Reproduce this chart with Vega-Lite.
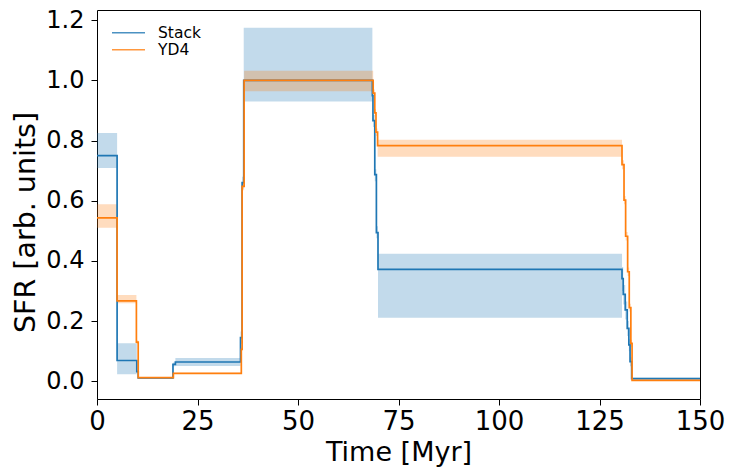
{
  "$schema": "https://vega.github.io/schema/vega-lite/v6.json",
  "autosize": "none",
  "width": 603,
  "height": 389,
  "padding": {"left": 97, "top": 10, "right": 30, "bottom": 68},
  "config": {
    "font": "DejaVu Sans",
    "view": {"stroke": "#000000", "strokeWidth": 1},
    "axis": {
      "grid": false,
      "domain": false,
      "tickColor": "#000000",
      "tickSize": 6,
      "tickWidth": 1,
      "labelColor": "#000000",
      "titleColor": "#000000",
      "titleFontWeight": "normal",
      "labelFont": "DejaVu Sans",
      "titleFont": "DejaVu Sans"
    }
  },
  "data": {
    "values": [
      {"series": "Stack", "t": 0, "v": 0.750, "lo": 0.709, "hi": 0.825},
      {"series": "Stack", "t": 5.0, "v": 0.069, "lo": 0.023, "hi": 0.126},
      {"series": "Stack", "t": 9.9, "v": 0.032, "lo": 0.028, "hi": 0.036},
      {"series": "Stack", "t": 10.25, "v": 0.011, "lo": 0.008, "hi": 0.014},
      {"series": "Stack", "t": 18.9, "v": 0.056, "lo": 0.050, "hi": 0.062},
      {"series": "Stack", "t": 19.5, "v": 0.064, "lo": 0.051, "hi": 0.077},
      {"series": "Stack", "t": 35.7, "v": 0.145, "lo": 0.125, "hi": 0.165},
      {"series": "Stack", "t": 36.1, "v": 0.660, "lo": 0.640, "hi": 0.680},
      {"series": "Stack", "t": 36.5, "v": 1.000, "lo": 0.930, "hi": 1.175},
      {"series": "Stack", "t": 68.5, "v": 0.949, "lo": 0.930, "hi": 0.970},
      {"series": "Stack", "t": 68.65, "v": 0.866, "lo": 0.845, "hi": 0.885},
      {"series": "Stack", "t": 69.1, "v": 0.687, "lo": 0.665, "hi": 0.705},
      {"series": "Stack", "t": 69.5, "v": 0.494, "lo": 0.475, "hi": 0.515},
      {"series": "Stack", "t": 69.9, "v": 0.372, "lo": 0.211, "hi": 0.424},
      {"series": "Stack", "t": 130.6, "v": 0.341, "lo": 0.300, "hi": 0.380},
      {"series": "Stack", "t": 130.9, "v": 0.289, "lo": 0.255, "hi": 0.320},
      {"series": "Stack", "t": 131.4, "v": 0.237, "lo": 0.205, "hi": 0.265},
      {"series": "Stack", "t": 131.9, "v": 0.176, "lo": 0.150, "hi": 0.200},
      {"series": "Stack", "t": 132.3, "v": 0.121, "lo": 0.100, "hi": 0.140},
      {"series": "Stack", "t": 132.6, "v": 0.065, "lo": 0.050, "hi": 0.080},
      {"series": "Stack", "t": 133.0, "v": 0.009, "lo": 0.006, "hi": 0.012},
      {"series": "Stack", "t": 150, "v": 0.009, "lo": 0.006, "hi": 0.012},
      {"series": "YD4", "t": 0, "v": 0.543, "lo": 0.510, "hi": 0.588},
      {"series": "YD4", "t": 5.0, "v": 0.267, "lo": 0.259, "hi": 0.287},
      {"series": "YD4", "t": 9.8, "v": 0.130, "lo": 0.124, "hi": 0.136},
      {"series": "YD4", "t": 10.25, "v": 0.012, "lo": 0.010, "hi": 0.014},
      {"series": "YD4", "t": 19.0, "v": 0.026, "lo": 0.024, "hi": 0.028},
      {"series": "YD4", "t": 35.9, "v": 0.106, "lo": 0.100, "hi": 0.112},
      {"series": "YD4", "t": 36.1, "v": 0.648, "lo": 0.635, "hi": 0.660},
      {"series": "YD4", "t": 36.6, "v": 1.000, "lo": 0.964, "hi": 1.032},
      {"series": "YD4", "t": 68.7, "v": 0.958, "lo": 0.945, "hi": 0.970},
      {"series": "YD4", "t": 69.1, "v": 0.892, "lo": 0.880, "hi": 0.905},
      {"series": "YD4", "t": 69.4, "v": 0.828, "lo": 0.815, "hi": 0.840},
      {"series": "YD4", "t": 69.8, "v": 0.783, "lo": 0.746, "hi": 0.803},
      {"series": "YD4", "t": 130.6, "v": 0.720, "lo": 0.705, "hi": 0.735},
      {"series": "YD4", "t": 131.1, "v": 0.602, "lo": 0.588, "hi": 0.616},
      {"series": "YD4", "t": 131.5, "v": 0.482, "lo": 0.468, "hi": 0.496},
      {"series": "YD4", "t": 132.0, "v": 0.364, "lo": 0.350, "hi": 0.378},
      {"series": "YD4", "t": 132.4, "v": 0.245, "lo": 0.232, "hi": 0.258},
      {"series": "YD4", "t": 132.8, "v": 0.126, "lo": 0.114, "hi": 0.138},
      {"series": "YD4", "t": 133.1, "v": 0.003, "lo": 0.001, "hi": 0.005},
      {"series": "YD4", "t": 150, "v": 0.003, "lo": 0.001, "hi": 0.005}
    ]
  },
  "encoding": {
    "x": {
      "field": "t",
      "type": "quantitative",
      "scale": {"domain": [0, 150], "nice": false, "zero": false},
      "axis": {
        "title": "Time [Myr]",
        "values": [0, 25, 50, 75, 100, 125, 150],
        "labelFontSize": 26,
        "titleFontSize": 27,
        "labelPadding": 3,
        "titlePadding": 5,
        "labelFlush": false
      }
    },
    "color": {
      "field": "series",
      "type": "nominal",
      "scale": {"domain": ["Stack", "YD4"], "range": ["#1f77b4", "#ff7f0e"]},
      "legend": {
        "title": null,
        "orient": "none",
        "legendX": 14,
        "legendY": 15,
        "padding": 0,
        "symbolType": "stroke",
        "symbolSize": 1089,
        "symbolStrokeWidth": 1.6,
        "symbolOpacity": 0.8,
        "labelFontSize": 15.5,
        "labelFont": "DejaVu Sans",
        "labelColor": "#000000",
        "labelOffset": 12,
        "rowPadding": 0,
        "clipHeight": 15.6
      }
    }
  },
  "layer": [
    {
      "mark": {"type": "area", "interpolate": "step-after", "opacity": 0.27},
      "encoding": {
        "y": {"field": "lo", "type": "quantitative"},
        "y2": {"field": "hi"}
      }
    },
    {
      "mark": {"type": "line", "interpolate": "step-after", "strokeWidth": 1.7},
      "encoding": {
        "y": {
          "field": "v",
          "type": "quantitative",
          "scale": {"domain": [-0.059, 1.234], "nice": false, "zero": false},
          "axis": {
            "title": "SFR [arb. units]",
            "values": [0, 0.2, 0.4, 0.6, 0.8, 1.0, 1.2],
            "format": ".1f",
            "labelFontSize": 24,
            "titleFontSize": 28.5,
            "labelPadding": 7,
            "titlePadding": 5,
            "titleY": 212,
            "labelFlush": false
          }
        }
      }
    }
  ]
}
